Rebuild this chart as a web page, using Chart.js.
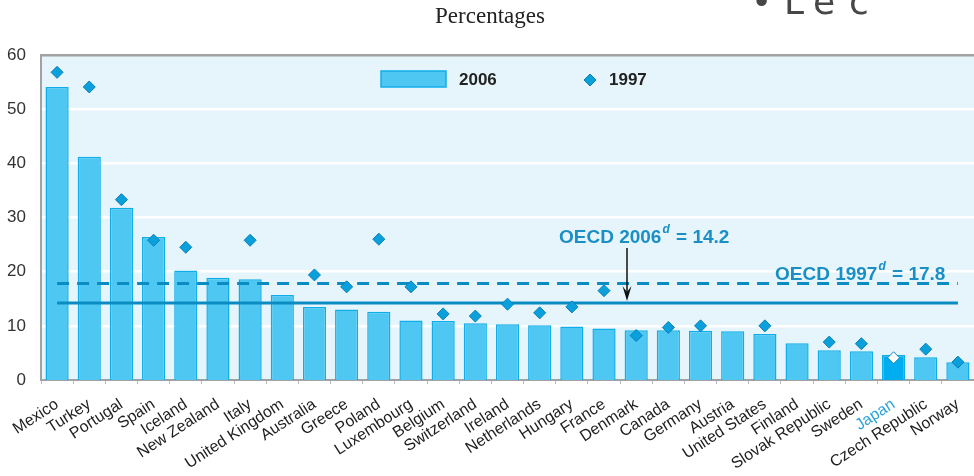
<!DOCTYPE html>
<html>
<head>
<meta charset="utf-8">
<script src="https://cdn.jsdelivr.net/npm/chart.js@4/dist/chart.umd.min.js"></script>
<style>
  body { margin: 0; background: #fff; }
</style>
</head>
<body>
<canvas id="chart" width="974" height="476"></canvas>
<script>
// ------------------------------------------------------------
// DATA
// ------------------------------------------------------------
const countries = [
  "Mexico", "Turkey", "Portugal", "Spain", "Iceland", "New Zealand", "Italy",
  "United Kingdom", "Australia", "Greece", "Poland", "Luxembourg", "Belgium",
  "Switzerland", "Ireland", "Netherlands", "Hungary", "France", "Denmark",
  "Canada", "Germany", "Austria", "United States", "Finland", "Slovak Republic",
  "Sweden", "Japan", "Czech Republic", "Norway",
];
const values2006 = [
  54.1, 41.2, 31.8, 26.4, 20.2, 18.9, 18.6, 15.7, 13.5, 13.0, 12.6, 11.0, 10.9,
  10.5, 10.3, 10.1, 9.9, 9.5, 9.2, 9.2, 9.1, 9.0, 8.5, 6.8, 5.5, 5.3, 4.6, 4.2, 3.3,
];
const values1997 = [
  56.8, 54.1, 33.3, 25.8, 24.5, null, 25.8, null, 19.4, 17.2, 26.0, 17.2, 12.2,
  11.8, 14.0, 12.4, 13.5, 16.5, 8.2, 9.7, 10.0, null, 10.0, null, 7.0, 6.7, 4.1, 5.7, 3.3,
];
const oecd2006 = 14.2;
const oecd1997 = 17.8;
const yTicks = [0, 10, 20, 30, 40, 50, 60];
const highlight = "Japan";

// ------------------------------------------------------------
// COLOURS
// ------------------------------------------------------------
const BAR = "#4ec8f3";
const BAR_EDGE = "#10aee9";
const BAR_HI = "#00aeef";
const DIAMOND = "#0aa0dc";
const DIAMOND_EDGE = "#0a7fb6";
const LINE = "#0a8cc2";
const LABEL_BLUE = "#1a8fc6";

// fond bleu clair + titre + légende + annotations
const decor = {
  id: "decor",
  beforeDraw(chart) {
    const { ctx, chartArea: a } = chart;
    ctx.save();
    ctx.fillStyle = "#e6f5fc";
    ctx.fillRect(a.left, a.top, a.right - a.left, a.bottom - a.top);
    ctx.fillStyle = "#222";
    ctx.font = '23px "Liberation Serif"';
    ctx.textAlign = "center";
    ctx.textBaseline = "middle";
    ctx.fillText("Percentages", 490, 17);
    // bout de texte coupé en haut à droite
    ctx.fillStyle = "#474747";
    ctx.font = '36px "DejaVu Sans"';
    ctx.textAlign = "left";
    ctx.textBaseline = "alphabetic";
    [["•", 751], ["L", 784], ["e", 813], ["c", 849]].forEach(([ch, x]) => ctx.fillText(ch, x, 14));
    ctx.restore();
  },
  afterDatasetsDraw(chart) {
    const { ctx } = chart;
    const y = chart.scales.y;
    ctx.save();
    // legende
    ctx.fillStyle = BAR;
    ctx.strokeStyle = BAR_EDGE;
    ctx.lineWidth = 1.5;
    ctx.fillRect(381, 71, 65, 16);
    ctx.strokeRect(381, 71, 65, 16);
    ctx.fillStyle = "#222";
    ctx.font = 'bold 17px Arial, "Liberation Sans"';
    ctx.textBaseline = "middle";
    ctx.fillText("2006", 459, 80);
    ctx.fillText("1997", 609, 80);
    ctx.beginPath();
    ctx.moveTo(590, 74); ctx.lineTo(596, 80); ctx.lineTo(590, 86); ctx.lineTo(584, 80);
    ctx.closePath();
    ctx.fillStyle = DIAMOND;
    ctx.fill();
    ctx.strokeStyle = DIAMOND_EDGE;
    ctx.lineWidth = 1;
    ctx.stroke();

    // annotations OECD
    function oecdLabel(x, base, year, val) {
      ctx.fillStyle = LABEL_BLUE;
      ctx.textBaseline = "alphabetic";
      ctx.font = 'bold 19px Arial, "Liberation Sans"';
      const t1 = "OECD " + year;
      ctx.fillText(t1, x, base);
      let w = ctx.measureText(t1).width;
      ctx.font = 'italic bold 12px Arial, "Liberation Sans"';
      ctx.fillText("d", x + w + 1, base - 10);
      w += ctx.measureText("d").width + 2;
      ctx.font = 'bold 19px Arial, "Liberation Sans"';
      ctx.fillText(" = " + val, x + w, base);
    }
    oecdLabel(559, 243, "2006", oecd2006.toFixed(1));
    oecdLabel(775, 280, "1997", oecd1997.toFixed(1));

    // fleche
    const ax = 627;
    const ay = y.getPixelForValue(oecd2006) - 2;
    ctx.strokeStyle = "#111";
    ctx.lineWidth = 1.5;
    ctx.beginPath();
    ctx.moveTo(ax, 248);
    ctx.lineTo(ax, ay - 6);
    ctx.stroke();
    ctx.fillStyle = "#111";
    ctx.beginPath();
    ctx.moveTo(ax - 4.5, ay - 15);
    ctx.lineTo(ax, ay - 9);
    ctx.lineTo(ax + 4.5, ay - 15);
    ctx.lineTo(ax, ay);
    ctx.closePath();
    ctx.fill();
    ctx.restore();
  },
};

const ctx = document.getElementById("chart").getContext("2d");
new Chart(ctx, {
  type: "bar",
  data: {
    labels: countries,
    datasets: [
      {
        type: "line",
        label: "1997",
        data: values1997,
        showLine: false,
        pointStyle: "rectRot",
        pointRadius: 6,
        pointBackgroundColor: countries.map((c) => (c === highlight ? "#fff" : DIAMOND)),
        pointBorderColor: DIAMOND_EDGE,
        pointBorderWidth: 1,
        order: 0,
      },
      {
        type: "line",
        label: "OECD 2006",
        data: countries.map(() => oecd2006),
        borderColor: LINE,
        borderWidth: 3,
        pointRadius: 0,
        order: 1,
      },
      {
        type: "line",
        label: "OECD 1997",
        data: countries.map(() => oecd1997),
        borderColor: LINE,
        borderWidth: 3,
        borderDash: [12, 8],
        pointRadius: 0,
        order: 1,
      },
      {
        label: "2006",
        data: values2006,
        backgroundColor: countries.map((c) => (c === highlight ? BAR_HI : BAR)),
        borderColor: BAR_EDGE,
        borderWidth: 1.5,
        barPercentage: 0.72,
        categoryPercentage: 1,
        order: 2,
      },
    ],
  },
  options: {
    responsive: false,
    animation: false,
    layout: { autoPadding: false, padding: { top: 55, right: 0, left: 0, bottom: 0 } },
    plugins: { legend: { display: false }, tooltip: { enabled: false }, title: { display: false } },
    scales: {
      x: {
        offset: true,
        grid: { display: true, drawOnChartArea: false, offset: true, color: "#bbb", tickLength: 4 },
        border: { color: "#a2a2a2", width: 2 },
        ticks: {
          minRotation: 33,
          maxRotation: 33,
          autoSkip: false,
          padding: 11,
          color: (c) => (countries[c.index] === highlight ? "#2aa2db" : "#1e1e1e"),
          font: { family: 'Arial, "Liberation Sans"', size: 16 },
        },
        afterFit: (s) => {
          s.height = 96;
          s.paddingLeft = 0;
          s.paddingRight = 0;
        },
      },
      y: {
        min: 0,
        max: 60,
        afterBuildTicks: (s) => { s.ticks = yTicks.map((v) => ({ value: v })); },
        grid: {
          color: (c) => (c.tick && c.tick.value === 60 ? "#a2a2a2" : "#ffffff"),
          lineWidth: (c) => (c.tick && c.tick.value === 0 ? 0 : 2.5),
          drawTicks: false,
        },
        border: { color: "#a2a2a2", width: 2 },
        ticks: {
          padding: 15,
          color: "#333",
          font: { family: 'Arial, "Liberation Sans"', size: 17 },
        },
        afterFit: (s) => { s.width = 41; },
      },
    },
  },
  plugins: [decor],
});
</script>
</body>
</html>
